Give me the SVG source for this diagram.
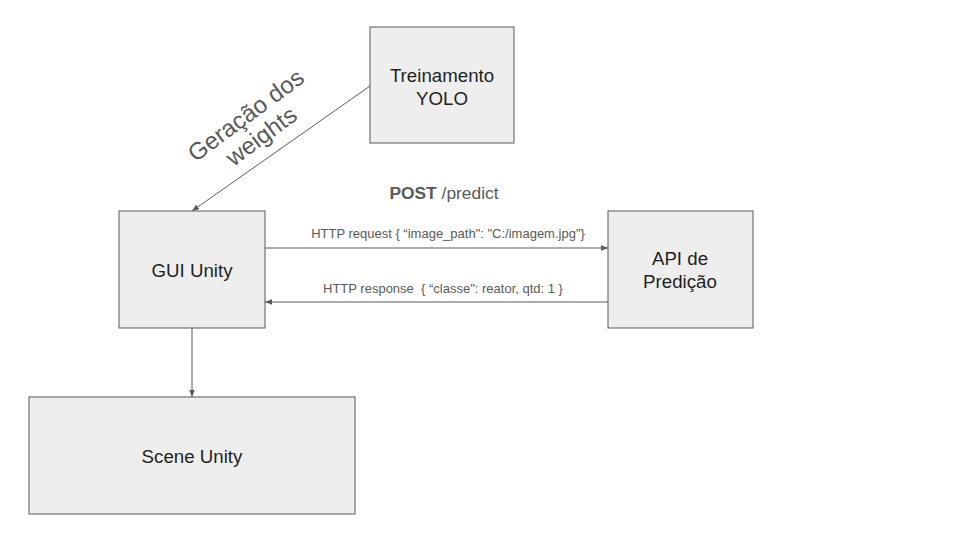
<svg xmlns="http://www.w3.org/2000/svg" width="960" height="540" viewBox="0 0 960 540">
<defs>
<style>
.box{fill:#eeeeee;stroke:#595959;stroke-width:1}
.t{font-family:"Liberation Sans",Arial,sans-serif;font-size:18.7px;fill:#1f1f1f;text-anchor:middle}
.c{stroke:#595959;stroke-width:1;fill:none;marker-end:url(#ah)}
.l{font-family:"Liberation Sans",Arial,sans-serif;font-size:13px;fill:#595959;text-anchor:middle}
</style>
<marker id="ah" viewBox="0 0 10 10" refX="10" refY="5" markerWidth="7" markerHeight="7" orient="auto" markerUnits="userSpaceOnUse">
<path d="M0,1 L10,5 L0,9 z" fill="#595959"/>
</marker>
</defs>
<rect width="960" height="540" fill="#ffffff"/>
<g id="connectors">
<line class="c" x1="370" y1="86" x2="192" y2="211"/>
<line class="c" x1="265" y1="248" x2="608" y2="248"/>
<line class="c" x1="608" y1="302" x2="265" y2="302"/>
<line class="c" x1="192" y1="328" x2="192" y2="397"/>
<g transform="translate(253,125) rotate(-36.5)">
<text x="0" y="-4" style="font-family:'Liberation Sans',Arial,sans-serif;font-size:24px;fill:#595959;text-anchor:middle">Geração dos</text>
<text x="0" y="22" style="font-family:'Liberation Sans',Arial,sans-serif;font-size:24px;fill:#595959;text-anchor:middle">weights</text>
</g>
<text class="l" x="448" y="238">HTTP request { “image_path": "C:/imagem.jpg"}</text>
<text class="l" x="443" y="293" xml:space="preserve">HTTP response  { “classe": reator, qtd: 1 }</text>
<text x="444" y="199" style="font-family:'Liberation Sans',Arial,sans-serif;font-size:17.4px;fill:#595959;text-anchor:middle"><tspan font-weight="bold">POST</tspan> /predict</text>
</g>
<g id="treinamento">
<rect class="box" x="370" y="27" width="144" height="116"/>
<text class="t" x="442" y="82">Treinamento</text>
<text class="t" x="442" y="105">YOLO</text>
</g>
<g id="gui">
<rect class="box" x="119" y="211" width="146" height="117"/>
<text class="t" x="192" y="277">GUI Unity</text>
</g>
<g id="api">
<rect class="box" x="608" y="211" width="145" height="117"/>
<text class="t" x="680" y="265">API de</text>
<text class="t" x="680" y="288">Predição</text>
</g>
<g id="scene">
<rect class="box" x="29" y="397" width="326" height="117"/>
<text class="t" x="192" y="463">Scene Unity</text>
</g>
</svg>
